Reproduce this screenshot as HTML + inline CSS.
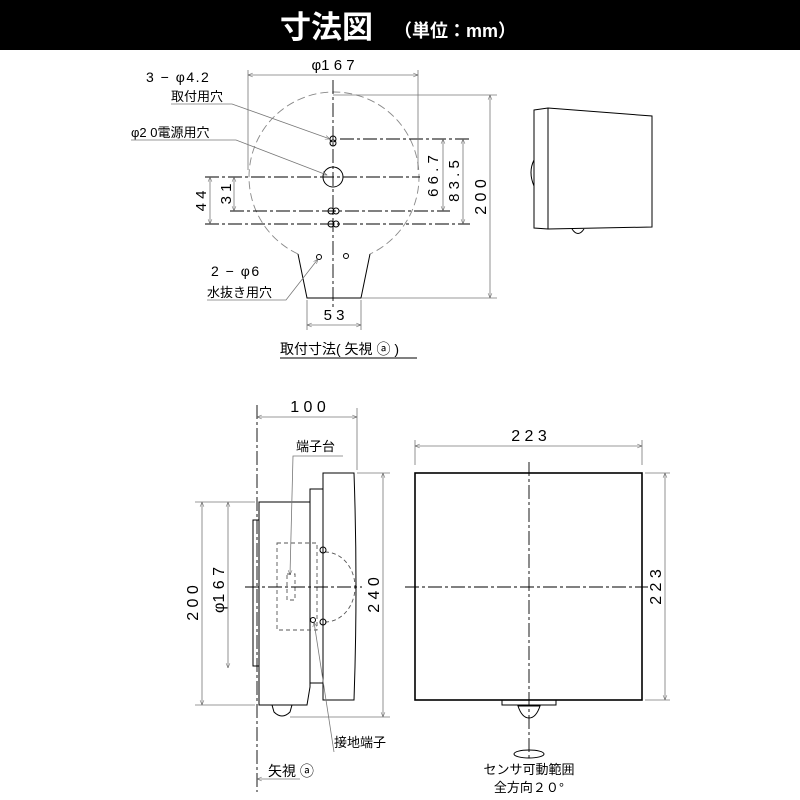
<!DOCTYPE html>
<html><head><meta charset="utf-8"><style>
html,body{margin:0;padding:0;background:#fff}
svg{display:block}
text{font-family:"Liberation Sans","Noto Sans CJK JP",sans-serif;fill:#000}
.t{stroke:#000;stroke-width:1;fill:none}
.k{stroke:#000;stroke-width:1.6;fill:none}
.g{stroke:#777;stroke-width:0.8;fill:none}
.c{stroke:#000;stroke-width:0.9;fill:none;stroke-dasharray:14 3 3 3}
.d{stroke:#555;stroke-width:0.9;fill:none;stroke-dasharray:4 3}
.dc{stroke:#888;stroke-width:0.9;fill:none;stroke-dasharray:8 4}
.l{letter-spacing:1.5px}
</style></head><body>
<svg width="800" height="800" viewBox="0 0 800 800" xmlns="http://www.w3.org/2000/svg">
<defs>
<marker id="a" viewBox="0 0 10 10" refX="10" refY="5" markerWidth="8" markerHeight="6" orient="auto-start-reverse"><path d="M0,1 L10,5 L0,9" fill="none" stroke="#555" stroke-width="1"/></marker>
</defs>
<rect x="0" y="0" width="800" height="50" fill="#000"/>
<text x="280" y="38" font-size="31" font-weight="bold" style="fill:#fff">寸法図</text>
<text x="394" y="37" font-size="18" font-weight="bold" style="fill:#fff">（単位：mm）</text>

<!-- TOP: mounting view -->
<path d="M298,254 A85,85 0 1 1 370,254" class="dc"/>
<path d="M298,254 L307,298 L361,298 L370,254" class="t"/>
<line x1="333" y1="80" x2="333" y2="310" class="c"/>
<line x1="205" y1="177" x2="420" y2="177" class="c"/>
<line x1="205" y1="224" x2="470" y2="224" class="c"/>
<line x1="230" y1="211" x2="450" y2="211" class="c"/>
<line x1="340" y1="139" x2="470" y2="139" class="c"/>
<circle cx="333" cy="177" r="10" class="t"/>
<circle cx="333" cy="139" r="3" class="t"/><circle cx="333" cy="143" r="3" class="t"/>
<circle cx="331" cy="211" r="3" class="t"/><circle cx="336" cy="211" r="3" class="t"/>
<circle cx="331" cy="224" r="3" class="t"/><circle cx="336" cy="224" r="3" class="t"/>
<circle cx="319" cy="257" r="2.5" class="t"/><circle cx="346" cy="256" r="2.5" class="t"/>
<!-- dims -->
<line x1="248" y1="70" x2="248" y2="170" class="g"/><line x1="418" y1="70" x2="418" y2="170" class="g"/>
<line x1="248" y1="75" x2="418" y2="75" class="g" marker-start="url(#a)" marker-end="url(#a)"/>
<text x="333" y="70" font-size="15" text-anchor="middle">φ1 6 7</text>
<line x1="333" y1="95" x2="497" y2="95" class="g"/><line x1="361" y1="298" x2="497" y2="298" class="g"/>
<line x1="490" y1="95" x2="490" y2="298" class="g" marker-start="url(#a)" marker-end="url(#a)"/>
<text transform="translate(486,197) rotate(-90)" font-size="16" text-anchor="middle">2 0 0</text>
<line x1="443" y1="139" x2="443" y2="211" class="g" marker-start="url(#a)" marker-end="url(#a)"/>
<text transform="translate(438,176) rotate(-90)" font-size="15" text-anchor="middle">6 6 . 7</text>
<line x1="463" y1="139" x2="463" y2="224" class="g" marker-start="url(#a)" marker-end="url(#a)"/>
<text transform="translate(459,181) rotate(-90)" font-size="15" text-anchor="middle">8 3 . 5</text>
<line x1="210" y1="177" x2="210" y2="224" class="g" marker-start="url(#a)" marker-end="url(#a)"/>
<text transform="translate(206,201) rotate(-90)" font-size="15" text-anchor="middle">4 4</text>
<line x1="234" y1="177" x2="234" y2="211" class="g" marker-start="url(#a)" marker-end="url(#a)"/>
<text transform="translate(231,194) rotate(-90)" font-size="15" text-anchor="middle">3 1</text>
<line x1="307" y1="300" x2="307" y2="330" class="g"/><line x1="361" y1="300" x2="361" y2="330" class="g"/>
<line x1="307" y1="325" x2="361" y2="325" class="g" marker-start="url(#a)" marker-end="url(#a)"/>
<text x="334" y="320" font-size="15" text-anchor="middle">5 3</text>
<text x="280" y="354" font-size="14">取付寸法( 矢視 ⓐ )</text>
<line x1="280" y1="358" x2="417" y2="358" class="t"/>
<!-- labels -->
<text x="146" y="82" font-size="14" class="l">3 − φ4.2</text>
<text x="171" y="101" font-size="13">取付用穴</text>
<path d="M171,104 L232,104 L330,139" class="g" marker-end="url(#a)"/>
<text x="131" y="137" font-size="13">φ2 0電源用穴</text>
<path d="M131,140 L236,140 L327,175" class="g" marker-end="url(#a)"/>
<text x="211" y="276" font-size="14" class="l">2 − φ6</text>
<text x="207" y="297" font-size="13">水抜き用穴</text>
<path d="M207,300 L286,300 L318,259" class="g" marker-end="url(#a)"/>

<!-- perspective -->
<path d="M534,110 L548,108 L652,116 L652,227 L548,229 L534,228 Z" class="t"/>
<line x1="548" y1="108" x2="548" y2="229" class="t"/>
<path d="M534,160 Q528,172 534,186" class="t"/>
<path d="M572,229 Q578,238 584,229" class="t"/>

<!-- side view -->
<line x1="257" y1="405" x2="257" y2="792" class="c"/>
<line x1="357" y1="408" x2="357" y2="470" class="g"/>
<line x1="257" y1="417" x2="357" y2="417" class="g" marker-start="url(#a)" marker-end="url(#a)"/>
<text x="308" y="412" font-size="16" text-anchor="middle">1 0 0</text>
<rect x="253" y="520" width="6" height="146" class="t"/>
<path d="M259,502 L310,502 L310,687 L307,705 L259,705 Z" class="t"/>
<rect x="310" y="489" width="13" height="194" class="t"/>
<path d="M323,473 L354,473 Q358,587 354,700 L323,700 Z" class="t"/>
<path d="M272,705 L292,705 L290,712 Q282,720 274,712 Z" class="t"/>
<rect x="277" y="543" width="40" height="87" class="d"/>
<rect x="287" y="574" width="8" height="26" class="d"/>
<path d="M325,552 A30,35 0 0 1 325,622" class="d"/>
<circle cx="323" cy="550" r="3" class="t"/><circle cx="323" cy="622" r="3" class="t"/>
<circle cx="313" cy="620" r="2.5" class="t"/>
<line x1="245" y1="587" x2="362" y2="587" class="c"/>
<line x1="195" y1="502" x2="255" y2="502" class="g"/><line x1="195" y1="705" x2="255" y2="705" class="g"/>
<line x1="202" y1="502" x2="202" y2="705" class="g" marker-start="url(#a)" marker-end="url(#a)"/>
<text transform="translate(198,603) rotate(-90)" font-size="16" text-anchor="middle">2 0 0</text>
<line x1="228" y1="502" x2="228" y2="668" class="g" marker-start="url(#a)" marker-end="url(#a)"/>
<text transform="translate(224,590) rotate(-90)" font-size="16" text-anchor="middle">φ1 6 7</text>
<line x1="357" y1="473" x2="390" y2="473" class="g"/><line x1="290" y1="717" x2="390" y2="717" class="g"/>
<line x1="383" y1="473" x2="383" y2="717" class="g" marker-start="url(#a)" marker-end="url(#a)"/>
<text transform="translate(379,595) rotate(-90)" font-size="16" text-anchor="middle">2 4 0</text>
<text x="296" y="451" font-size="13">端子台</text>
<path d="M343,456 L293,456 L290,575" class="g" marker-end="url(#a)"/>
<text x="334" y="747" font-size="13">接地端子</text>
<path d="M334,752 L314,622" class="g" marker-end="url(#a)"/>
<text x="268" y="776" font-size="14">矢視 ⓐ</text>
<line x1="300" y1="779" x2="257" y2="779" class="g" marker-end="url(#a)"/>

<!-- front view -->
<rect x="415" y="473" width="227" height="227" class="k"/>
<line x1="529" y1="462" x2="529" y2="760" class="c"/>
<line x1="405" y1="587" x2="648" y2="587" class="c"/>
<line x1="415" y1="440" x2="415" y2="465" class="g"/><line x1="642" y1="440" x2="642" y2="465" class="g"/>
<line x1="415" y1="446" x2="642" y2="446" class="g" marker-start="url(#a)" marker-end="url(#a)"/>
<text x="529" y="441" font-size="16" text-anchor="middle">2 2 3</text>
<line x1="645" y1="473" x2="670" y2="473" class="g"/><line x1="645" y1="700" x2="670" y2="700" class="g"/>
<line x1="665" y1="473" x2="665" y2="700" class="g" marker-start="url(#a)" marker-end="url(#a)"/>
<text transform="translate(661,587) rotate(-90)" font-size="16" text-anchor="middle">2 2 3</text>
<path d="M502,700 L502,705 L556,705 L556,700" class="t"/>
<path d="M518,706 L540,706 Q536,718 529,718 Q522,718 518,706 Z" class="t"/>
<ellipse cx="529" cy="754" rx="15" ry="4" class="t"/>
<text x="529" y="774" font-size="13" text-anchor="middle">センサ可動範囲</text>
<text x="529" y="792" font-size="13" text-anchor="middle">全方向２０°</text>
</svg>
</body></html>
